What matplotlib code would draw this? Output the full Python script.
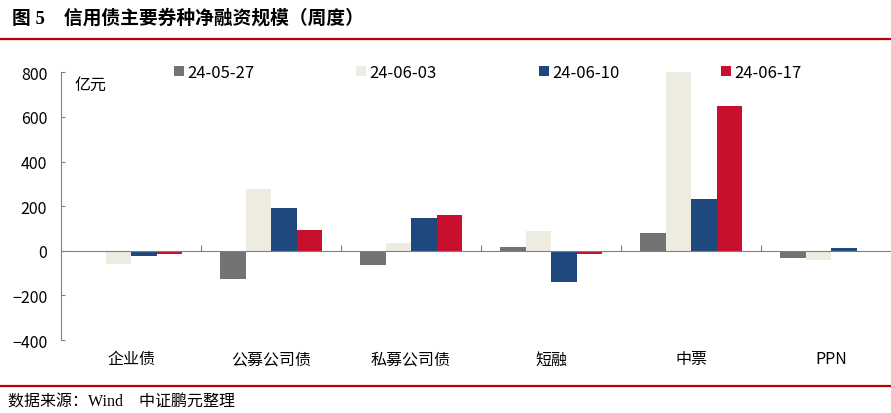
import matplotlib.pyplot as plt
import numpy as np

plt.rcParams['font.family'] = ['Noto Sans CJK SC', 'DejaVu Sans']

categories = ["企业债", "公募公司债", "私募公司债", "短融", "中票", "PPN"]
series_names = ["24-05-27", "24-06-03", "24-06-10", "24-06-17"]
v_0527 = [-5, -128, -65, 16, 79, -32]
v_0603 = [-61, 277, 33, 91, 802, -40]
v_0610 = [-25, 190, 147, -140, 233, 12]
v_0617 = [-13, 95, 162, -15, 650, 0]
colors = ["#737373", "#EEEBE0", "#1F497D", "#C8102E"]

fig = plt.figure(figsize=(8.91, 4.14), dpi=100)

# title and header line
fig.text(0.013, 0.957, "图 5    信用债主要券种净融资规模（周度）", fontsize=13.5,
         fontweight='bold', family=['Liberation Serif', 'Noto Sans CJK SC'],
         va='center', ha='left')
fig.add_artist(plt.Line2D([0, 1], [0.903, 0.903], color="#C00000", lw=1.6))
fig.add_artist(plt.Line2D([0, 1], [0.066, 0.066], color="#C00000", lw=1.6))
fig.text(0.009, 0.027, "数据来源：Wind    中证鹏元整理", fontsize=11.5,
         family=['Liberation Serif', 'Noto Sans CJK SC'], va='center', ha='left')

ax = fig.add_axes([0.0685, 0.176, 0.943, 0.647])
x = np.arange(len(categories))
w = 0.182
all_vals = [v_0527, v_0603, v_0610, v_0617]
for i, (vals, c, name) in enumerate(zip(all_vals, colors, series_names)):
    ax.bar(x + (i - 1.5) * w, vals, w, color=c, label=name, zorder=2)

ax.set_xlim(-0.5, len(categories) - 0.5)
ax.set_ylim(-400, 800)
ax.set_yticks([-400, -200, 0, 200, 400, 600, 800])
ax.set_yticklabels(["−400", "−200", "0", "200", "400", "600", "800"])
ax.tick_params(axis='y', direction='in', length=3, color="#808080",
               labelsize=11.5, pad=10)

for s in ['top', 'right']:
    ax.spines[s].set_visible(False)
ax.spines['left'].set_color("#808080")
ax.spines['bottom'].set_position(('data', 0))
ax.spines['bottom'].set_color("#808080")
ax.spines['bottom'].set_zorder(3)

ax.set_xticks(np.arange(0.5, len(categories) - 0.5), minor=False)
ax.set_xticklabels([])
ax.tick_params(axis='x', direction='in', length=4, color="#808080")
for xi, lab in zip(x, categories):
    ax.text(xi, -0.07, lab, transform=ax.get_xaxis_transform(), ha='center',
            va='center', fontsize=11.5)

ax.text(0.016, 0.955, "亿元", transform=ax.transAxes, fontsize=11.5, va='center')

ax.legend(ncol=4, loc='center', bbox_to_anchor=(0.508, 1.0), frameon=False,
          fontsize=12, handlelength=0.6, handleheight=0.6, handletextpad=0.2,
          columnspacing=6.1)

fig.savefig("out.png", dpi=100)
